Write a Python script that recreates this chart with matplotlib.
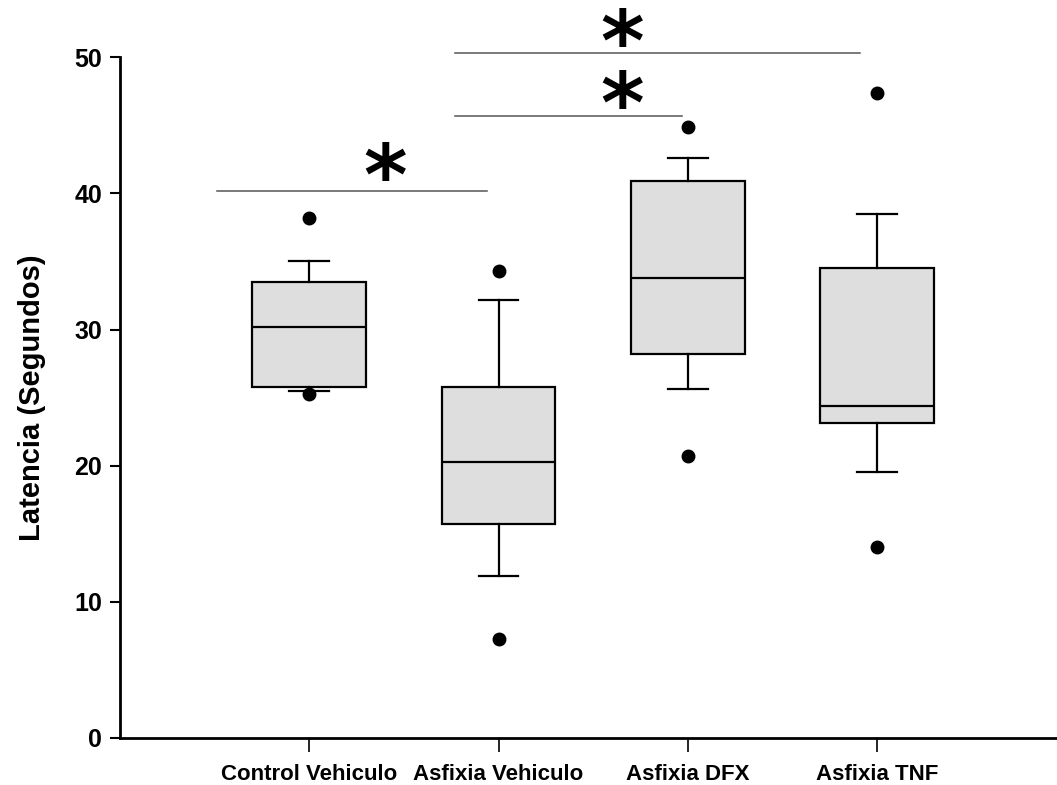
import matplotlib
matplotlib.use("Agg")
import matplotlib.pyplot as plt

plt.rcParams['font.family'] = ['Liberation Sans', 'DejaVu Sans']
plt.rcParams['mathtext.fontset'] = 'dejavusans'

# Latency per group (seconds), summary stats per box
groups = ['Control Vehiculo', 'Asfixia Vehiculo', 'Asfixia DFX', 'Asfixia TNF']
q1 = [25.8, 15.7, 28.2, 23.1]
medians = [30.2, 20.3, 33.8, 24.4]
q3 = [33.5, 25.8, 40.9, 34.5]
whis_lo = [25.5, 11.9, 25.6, 19.5]
whis_hi = [35.0, 32.2, 42.6, 38.5]
outliers = [[38.2, 25.3], [34.3, 7.3], [44.9, 20.7], [47.4, 14.0]]

# Significance brackets: (x start, x end, height) and star anchors
sig_lines = [(0.51, 1.94, 40.2), (1.77, 2.97, 45.7), (1.77, 3.91, 50.3)]
sig_stars = [(1.40, 41.0), (2.65, 46.3), (2.65, 50.8)]

stats = []
for i, g in enumerate(groups):
    stats.append({'label': g, 'q1': q1[i], 'med': medians[i], 'q3': q3[i],
                  'whislo': whis_lo[i], 'whishi': whis_hi[i], 'fliers': outliers[i]})

fig = plt.figure(figsize=(10.57, 7.85), dpi=100)
ax = fig.add_axes([0.1135, 0.06, 0.8865, 0.867])

ax.bxp(stats, positions=[1, 2, 3, 4], widths=0.6, patch_artist=True,
       boxprops=dict(facecolor='#dedede', edgecolor='black', linewidth=1.6),
       medianprops=dict(color='black', linewidth=1.6),
       whiskerprops=dict(color='black', linewidth=1.6),
       capprops=dict(color='black', linewidth=1.6),
       capwidths=0.21,
       flierprops=dict(marker='o', markerfacecolor='black', markeredgecolor='black',
                       markersize=9))

for x0, x1, y in sig_lines:
    ax.plot([x0, x1], [y, y], color='#555555', linewidth=1.1, clip_on=False)
for x, y in sig_stars:
    ax.text(x, y, r'$\mathbf{*}$', fontsize=60, ha='center', va='center',
            clip_on=False)

ax.set_xlim(0, 4.95)
ax.set_ylim(0, 50)
ax.set_yticks([0, 10, 20, 30, 40, 50])
ax.set_xticks([1, 2, 3, 4])
ax.set_xticklabels(groups, fontsize=16, fontweight='bold')
for lbl in ax.get_yticklabels():
    lbl.set_fontsize(18)
    lbl.set_fontweight('bold')
ax.tick_params(axis='y', direction='out', length=7, width=1.5, pad=6)
ax.tick_params(axis='x', direction='out', length=10, width=1.2, pad=9)
ax.set_ylabel('Latencia (Segundos)', fontsize=21, fontweight='bold', labelpad=20)

ax.spines['top'].set_visible(False)
ax.spines['right'].set_visible(False)
ax.spines['left'].set_linewidth(2)
ax.spines['bottom'].set_linewidth(2)

fig.savefig('out.png', dpi=100)
